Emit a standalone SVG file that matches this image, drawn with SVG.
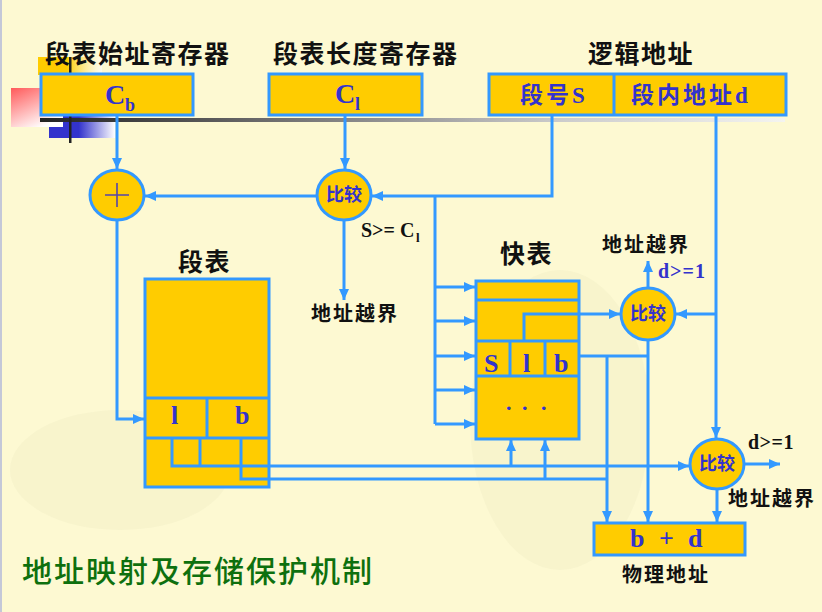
<svg xmlns="http://www.w3.org/2000/svg" width="822" height="612" viewBox="0 0 822 612">
  <defs>
    <style>
      .box { fill: #FFCC00; stroke: #3399FF; stroke-width: 3; }
      .line { fill: none; stroke: #3399FF; stroke-width: 3; }
      .arr { fill: none; stroke: #3399FF; stroke-width: 3; marker-end: url(#ah); }
      .title { font-family: "Noto Sans CJK SC", sans-serif; font-weight: 700; font-size: 25px; fill: #111; letter-spacing: 1.5px; }
      .lbl { font-family: "Noto Sans CJK SC", sans-serif; font-weight: 700; font-size: 20px; fill: #111; letter-spacing: 2px; }
      .blue { font-family: "Liberation Serif", "Noto Sans CJK SC", serif; font-weight: 700; fill: #3333CC; }
      .blk { font-family: "Liberation Serif", "Noto Sans CJK SC", serif; font-weight: 700; fill: #111; }
      .cmp { font-family: "Noto Sans CJK SC", sans-serif; font-weight: 700; font-size: 18px; fill: #3333CC; }
    </style>
    <marker id="ah" markerUnits="userSpaceOnUse" markerWidth="12" markerHeight="12" refX="11" refY="6" orient="auto">
      <path d="M0,1 L11,6 L0,11 z" fill="#3399FF"/>
    </marker>
    <linearGradient id="bar" x1="0" y1="0" x2="1" y2="0">
      <stop offset="0" stop-color="#222"/>
      <stop offset="0.35" stop-color="#777"/>
      <stop offset="0.7" stop-color="#ccc"/>
      <stop offset="1" stop-color="#f4f4f0"/>
    </linearGradient>
    <linearGradient id="pink" x1="0" y1="0" x2="0.6" y2="1">
      <stop offset="0" stop-color="#FF5A5A"/>
      <stop offset="1" stop-color="#FFFFFF"/>
    </linearGradient>
    <linearGradient id="bluegr" x1="0" y1="0" x2="1" y2="0">
      <stop offset="0.45" stop-color="#3333CC"/>
      <stop offset="1" stop-color="#FFFFFF"/>
    </linearGradient>
    <linearGradient id="yelgr" x1="0" y1="0" x2="1" y2="0">
      <stop offset="0.45" stop-color="#FFCC00"/>
      <stop offset="1" stop-color="#FFFFFF" stop-opacity="0.6"/>
    </linearGradient>
  </defs>

  <!-- slide background -->
  <rect x="0" y="0" width="822" height="612" fill="#FDF9D2"/>
  <rect x="0" y="0" width="2" height="612" fill="#C4C8D8"/>
  <g fill="#EEEAC4" opacity="0.35">
    <ellipse cx="560" cy="420" rx="90" ry="150"/>
    <ellipse cx="120" cy="470" rx="110" ry="60"/>
  </g>

  <!-- template ornament, top left -->
  <g id="ornament">
    <rect x="38" y="57" width="64" height="18" fill="url(#yelgr)"/>
    <rect x="49" y="116" width="66" height="22" fill="url(#bluegr)"/>
    <rect x="11" y="88" width="52" height="39" fill="url(#pink)"/>
    <rect x="40" y="118" width="745" height="4" fill="url(#bar)"/>
    <rect x="69" y="57" width="2.5" height="86" fill="#222"/>
  </g>

  <!-- registers and logical address -->
  <g id="cb-register">
    <text class="title" x="45" y="63">段表始址寄存器</text>
    <rect class="box" x="41" y="74" width="152" height="41"/>
    <text class="blue" x="105" y="104" font-size="28">C</text>
    <text class="blue" x="125" y="111" font-size="18">b</text>
  </g>
  <g id="cl-register">
    <text class="title" x="273" y="63">段表长度寄存器</text>
    <rect class="box" x="269" y="74" width="153" height="41"/>
    <text class="blue" x="335" y="103" font-size="28">C</text>
    <text class="blue" x="355" y="110" font-size="18">l</text>
  </g>
  <g id="logical-address">
    <text class="title" x="588" y="63">逻辑地址</text>
    <rect class="box" x="489" y="74" width="297" height="41"/>
    <line class="line" x1="614" y1="74" x2="614" y2="115"/>
    <text class="blue" x="520" y="103" font-size="23" letter-spacing="3">段号S</text>
    <text class="blue" x="631" y="103" font-size="23" letter-spacing="3">段内地址d</text>
  </g>

  <!-- adder and length comparator -->
  <g id="adder">
    <ellipse class="box" cx="117" cy="195" rx="27" ry="25"/>
    <path d="M105,195 H129 M117,183 V207" stroke="#5544AA" stroke-width="1.6" fill="none"/>
  </g>
  <g id="compare-length">
    <ellipse class="box" cx="344" cy="195" rx="27" ry="25"/>
    <text class="cmp" x="344" y="201" text-anchor="middle">比较</text>
    <text class="blk" x="361" y="237" font-size="20">S&gt;= C</text>
    <text class="blk" x="416" y="242" font-size="13">l</text>
    <text class="lbl" x="311" y="321">地址越界</text>
  </g>

  <!-- segment table -->
  <g id="segment-table">
    <text class="title" x="178" y="271">段表</text>
    <rect class="box" x="145" y="279" width="124" height="208"/>
    <path class="line" d="M145,398 H269 M145,438 H269 M207,398 V438 M200,438 V466"/>
    <text class="blue" x="171" y="424" font-size="26">l</text>
    <text class="blue" x="235" y="424" font-size="26">b</text>
  </g>

  <!-- associative (fast) table -->
  <g id="fast-table">
    <text class="title" x="500" y="263">快表</text>
    <rect class="box" x="476" y="281" width="103" height="158"/>
    <path class="line" d="M476,300 H579 M476,341 H579 M476,376 H579 M510,341 V376 M545,341 V376"/>
    <text class="blue" x="484" y="372" font-size="26">S</text>
    <text class="blue" x="523" y="372" font-size="26">l</text>
    <text class="blue" x="554" y="372" font-size="26">b</text>
    <text class="blue" font-size="22"><tspan x="506" y="410">.</tspan><tspan x="522" y="410">.</tspan><tspan x="541" y="410">.</tspan></text>
  </g>

  <!-- offset comparators -->
  <g id="compare-offset-1">
    <ellipse class="box" cx="648" cy="314" rx="27" ry="26"/>
    <text class="cmp" x="648" y="320" text-anchor="middle">比较</text>
    <text class="lbl" x="602" y="252" font-size="19">地址越界</text>
    <text class="blue" x="658" y="278" font-size="20" letter-spacing="1">d&gt;=1</text>
  </g>
  <g id="compare-offset-2">
    <ellipse class="box" cx="717" cy="464" rx="27" ry="25"/>
    <text class="cmp" x="717" y="470" text-anchor="middle">比较</text>
    <text class="blk" x="748" y="449" font-size="20" letter-spacing="0.5">d&gt;=1</text>
    <text class="lbl" x="728" y="506" font-size="19">地址越界</text>
  </g>

  <!-- physical address -->
  <g id="physical-address">
    <rect class="box" x="594" y="523" width="151" height="32"/>
    <text class="blue" font-size="26"><tspan x="630" y="547">b</tspan><tspan x="659" y="547">+</tspan><tspan x="688" y="547">d</tspan></text>
    <text class="lbl" x="622" y="582" font-size="19">物理地址</text>
  </g>

  <!-- connectors -->
  <g id="connectors">
    <path class="arr" d="M117,115 V169"/>
    <path class="arr" d="M345,115 V169"/>
    <path class="arr" d="M552,115 V196 H372"/>
    <path class="arr" d="M317,196 H145"/>
    <path class="arr" d="M344,220 V300"/>
    <path class="arr" d="M117,220 V419 H144"/>
    <path class="line" d="M435,196 V424"/>
    <path class="arr" d="M435,287 H475"/>
    <path class="arr" d="M435,321 H475"/>
    <path class="arr" d="M435,356 H475"/>
    <path class="arr" d="M435,390 H475"/>
    <path class="arr" d="M435,424 H475"/>
    <path class="arr" d="M172,438 V466 H689"/>
    <path class="line" d="M241,438 V479 H607"/>
    <path class="arr" d="M511,466 V440"/>
    <path class="arr" d="M545,479 V440"/>
    <path class="line" d="M579,356 H648"/>
    <path class="arr" d="M607,356 V522"/>
    <path class="arr" d="M648,340 V522"/>
    <path class="arr" d="M524,341 V314 H620"/>
    <path class="arr" d="M716,115 V438"/>
    <path class="arr" d="M716,314 H676"/>
    <path class="arr" d="M648,288 V261"/>
    <path class="arr" d="M744,464 H780"/>
    <path class="arr" d="M717,489 V522"/>
  </g>

  <text x="22" y="582" font-family="Noto Sans CJK SC, sans-serif" font-size="30" font-weight="500" fill="#0E700E" letter-spacing="2">地址映射及存储保护机制</text>
</svg>
